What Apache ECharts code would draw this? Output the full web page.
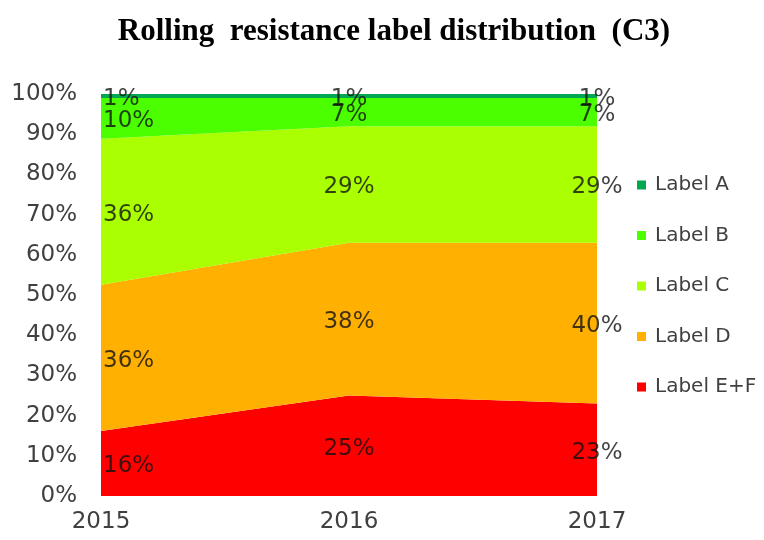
<!DOCTYPE html>
<html>
<head>
<meta charset="utf-8">
<script src="https://cdn.jsdelivr.net/npm/echarts@6/dist/echarts.min.js"></script>
<style>
  html, body { margin: 0; padding: 0; background: #ffffff; }
  #chart { width: 764px; height: 540px; }
</style>
</head>
<body>
<div id="chart"></div>
<script>
const years = ["2015", "2016", "2017"];
const layerNames = ["Label E+F", "Label D", "Label C", "Label B", "Label A"];
const labelEF = [16, 25, 23];
const labelD = [36, 38, 40];
const labelC = [36, 29, 29];
const labelB = [10, 7, 7];
const labelA = [1, 1, 1];
const yTicks = [0, 10, 20, 30, 40, 50, 60, 70, 80, 90, 100];
const colors = ["#ff0000", "#ffb000", "#aaff00", "#4cff00", "#00a650"];

const layers = [labelEF, labelD, labelC, labelB, labelA];
const totals = years.map((_, i) => layers.reduce((s, arr) => s + arr[i], 0));
// 100% stacked: share of each year's total
const shares = layers.map((arr) => arr.map((v, i) => (v / totals[i]) * 100));

const font = "DejaVu Sans, Verdana, sans-serif";

const areaSeries = layerNames.map((name, k) => ({
  name,
  type: "line",
  stack: "total",
  data: shares[k],
  symbol: "none",
  lineStyle: { width: 0 },
  areaStyle: { color: colors[k], opacity: 1 },
  itemStyle: { color: colors[k] },
  z: 2,
}));

// value labels sit in the middle of each band
const labelSeries = layerNames.map((name, k) => ({
  name: name + " labels",
  type: "scatter",
  symbolSize: 0,
  silent: true,
  z: 5,
  data: years.map((year, i) => {
    let base = 0;
    for (let j = 0; j < k; j++) base += shares[j][i];
    return {
      value: [year, base + shares[k][i] / 2],
      raw: layers[k][i],
      label: i === 0 ? { align: "left", offset: [2, 3] } : {},
    };
  }),
  label: {
    show: true,
    position: "inside",
    offset: [0, 3],
    formatter: (p) => p.data.raw + "%",
    fontFamily: font,
    fontSize: 23,
    color: "#111111",
  },
}));

const chart = echarts.init(document.getElementById("chart"), null, { renderer: "canvas" });
chart.setOption({
  animation: false,
  backgroundColor: "#ffffff",
  title: {
    text: "Rolling  resistance label distribution  (C3)",
    left: 389,
    textAlign: "center",
    top: 11,
    textStyle: {
      fontFamily: "Liberation Serif, Times New Roman, serif",
      fontWeight: "bold",
      fontSize: 31,
      color: "#000000",
    },
  },
  legend: {
    orient: "vertical",
    left: 632,
    top: 170,
    itemWidth: 9,
    itemHeight: 9,
    itemGap: 30.5,
    icon: "rect",
    data: ["Label A", "Label B", "Label C", "Label D", "Label E+F"],
    textStyle: {
      fontFamily: font,
      fontSize: 20,
      lineHeight: 20,
      color: "#404040",
      padding: [0, 0, 0, 4],
    },
  },
  grid: { left: 101, right: 167, top: 94, bottom: 44 },
  xAxis: {
    type: "category",
    data: years,
    boundaryGap: false,
    axisLine: { show: false },
    axisTick: { show: false },
    axisLabel: { fontFamily: font, fontSize: 23, color: "#404040", margin: 15 },
    splitLine: { show: false },
  },
  yAxis: {
    type: "value",
    min: yTicks[0],
    max: yTicks[yTicks.length - 1],
    interval: yTicks[1] - yTicks[0],
    axisLine: { show: false },
    axisTick: { show: false },
    splitLine: { show: false },
    axisLabel: {
      fontFamily: font,
      fontSize: 23,
      color: "#404040",
      margin: 24,
      formatter: "{value}%",
    },
  },
  series: [...areaSeries, ...labelSeries],
});
</script>
</body>
</html>
